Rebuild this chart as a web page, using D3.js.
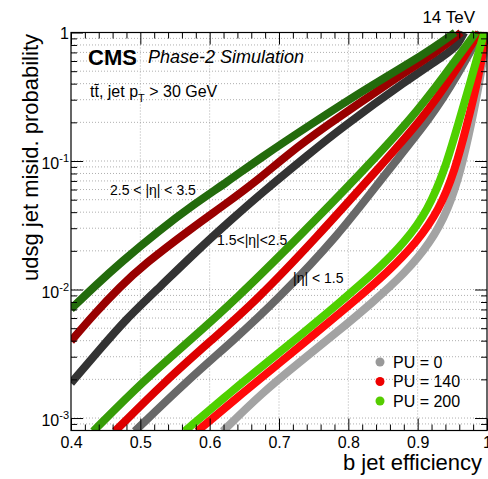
<!DOCTYPE html>
<html>
    <head>
        <script src="https://cdnjs.cloudflare.com/ajax/libs/d3/7.8.5/d3.min.js"></script>
        <title>b-tag ROC</title>
        <style>
            html, body {
                margin: 0;
                background: #fff;
            }
            svg {
                display: block;
                font-family: "Liberation Sans", Arial, Helvetica, sans-serif;
            }
        </style>
    </head>
    <body>
        <svg width="488" height="479"></svg>

        <script>
            // axis ticks
            var xTicks = [0.4, 0.5, 0.6, 0.7, 0.8, 0.9, 1];
            var xTickLabels = ["0.4", "0.5", "0.6", "0.7", "0.8", "0.9", "1"];
            var yMajor = [0.001, 0.01, 0.1, 1];
            var yExponents = ["-3", "-2", "-1", ""];

            var regionLabels = ["2.5 < |η| < 3.5", "1.5<|η|<2.5", "|η| < 1.5"];
            var puLabels = ["PU = 0", "PU = 140", "PU = 200"];

            // 2.5 < |eta| < 3.5
            var fwdEffPU0   = [0.400, 0.442, 0.478, 0.528, 0.586, 0.629, 0.673, 0.745, 0.788, 0.885, 0.942, 0.958, 0.967];
            var fwdMisPU0   = [0.00187, 0.00344, 0.00579, 0.01046, 0.02104, 0.0341, 0.0553, 0.1154, 0.1774, 0.427, 0.680, 0.799, 1.0];
            var fwdEffPU140 = [0.400, 0.4346, 0.4707, 0.504, 0.576, 0.625, 0.673, 0.7115, 0.7635, 0.860, 0.932, 0.9625];
            var fwdMisPU140 = [0.00397, 0.00656, 0.01046, 0.0155, 0.0306, 0.0471, 0.0738, 0.1113, 0.1806, 0.412, 0.731, 1.0];
            var fwdEffPU200 = [0.400, 0.4346, 0.4707, 0.528, 0.576, 0.625, 0.673, 0.740, 0.836, 0.908, 0.954];
            var fwdMisPU200 = [0.00705, 0.01065, 0.01608, 0.0290, 0.0455, 0.0686, 0.1055, 0.184, 0.397, 0.668, 1.0];

            // 1.5 < |eta| < 2.5
            var midEffPU0   = [0.492, 0.567, 0.635, 0.697, 0.785, 0.853, 0.919, 0.958, 0.991];
            var midMisPU0   = [0.00079, 0.00194, 0.00405, 0.00828, 0.0261, 0.0792, 0.216, 0.467, 1.0];
            var midEffPU140 = [0.4635, 0.536, 0.603, 0.668, 0.756, 0.836, 0.908, 0.951, 0.9885];
            var midMisPU140 = [0.00079, 0.00194, 0.00405, 0.00828, 0.0261, 0.0792, 0.216, 0.467, 1.0];
            var midEffPU200 = [0.432, 0.504, 0.572, 0.6365, 0.730, 0.817, 0.892, 0.939, 0.984];
            var midMisPU200 = [0.00079, 0.00194, 0.00405, 0.00828, 0.0261, 0.0792, 0.216, 0.467, 1.0];

            // |eta| < 1.5
            var cenEffPU0   = [0.619, 0.6755, 0.730, 0.784, 0.834, 0.882, 0.918, 0.944, 0.9625, 0.977, 0.990, 1.0];
            var cenMisPU0   = [0.00079, 0.00157, 0.00273, 0.00467, 0.00785, 0.01344, 0.0230, 0.0416, 0.0851, 0.1906, 0.427, 1.0];
            var cenEffPU140 = [0.582, 0.648, 0.706, 0.753, 0.807, 0.857, 0.899, 0.931, 0.954, 0.971, 0.987, 0.9995];
            var cenMisPU140 = [0.00079, 0.00157, 0.00283, 0.00459, 0.00799, 0.01368, 0.02342, 0.0416, 0.0851, 0.1906, 0.427, 1.0];
            var cenEffPU200 = [0.564, 0.629, 0.687, 0.735, 0.788, 0.8385, 0.882, 0.915, 0.939, 0.958, 0.977, 0.996];
            var cenMisPU200 = [0.00079, 0.00157, 0.00283, 0.00459, 0.00799, 0.01368, 0.02342, 0.0416, 0.0851, 0.1906, 0.427, 1.0];

            var curves = [
                {eff: fwdEffPU0,   mis: fwdMisPU0,   color: "#333333"},
                {eff: fwdEffPU140, mis: fwdMisPU140, color: "#990000"},
                {eff: fwdEffPU200, mis: fwdMisPU200, color: "#236b0c"},
                {eff: midEffPU0,   mis: midMisPU0,   color: "#686868"},
                {eff: midEffPU140, mis: midMisPU140, color: "#dd0000"},
                {eff: midEffPU200, mis: midMisPU200, color: "#379c08"},
                {eff: cenEffPU0,   mis: cenMisPU0,   color: "#a3a3a3"},
                {eff: cenEffPU140, mis: cenMisPU140, color: "#ff0a0a"},
                {eff: cenEffPU200, mis: cenMisPU200, color: "#4fd000"}
            ];
            var legendColors = ["#999999", "#ee0000", "#55cc00"];

            var padL = 71, padR = 487, padT = 32.5, padB = 430.5;

            var x = d3.scaleLinear().domain([0.4, 1]).range([padL, padR]);
            var y = d3.scaleLog().domain([0.0008, 1]).range([padB, padT]);

            var svg = d3.select("svg");

            // minor tick values
            var xMinor = d3.range(0.42, 1.0, 0.02).filter(function(v){
                return Math.abs(v * 10 - Math.round(v * 10)) > 0.01;
            });
            var yAll = [0.0009];
            yMajor.slice(0, 3).forEach(function(d){
                for (var m = 1; m <= 9; m++) yAll.push(m * d);
            });
            var yMinor = yAll.filter(function(v){ return yMajor.indexOf(v) < 0; });

            // grid
            var grid = svg.append("g")
                .attr("stroke", "#9a9a9a")
                .attr("stroke-width", 0.8)
                .attr("stroke-dasharray", "1,2");
            grid.selectAll(".gy")
                .data(yAll)
                .enter().append("line")
                .attr("x1", padL).attr("x2", padR)
                .attr("y1", function(d){ return y(d); })
                .attr("y2", function(d){ return y(d); });
            grid.selectAll(".gx")
                .data(xTicks.slice(1, 6))
                .enter().append("line")
                .attr("y1", padT).attr("y2", padB)
                .attr("x1", function(d){ return x(d); })
                .attr("x2", function(d){ return x(d); });

            // curves
            svg.append("clipPath").attr("id", "clip")
                .append("rect")
                .attr("x", padL).attr("y", padT - 5)
                .attr("width", padR - padL + 5).attr("height", padB - padT + 5);

            var line = d3.line()
                .x(function(d){ return x(d[0]); })
                .y(function(d){ return y(d[1]); })
                .curve(d3.curveBasis);

            svg.append("g")
                .attr("clip-path", "url(#clip)")
                .selectAll("path")
                .data(curves)
                .enter().append("path")
                .attr("d", function(c){ return line(d3.zip(c.eff, c.mis)); })
                .attr("fill", "none")
                .attr("stroke", function(c){ return c.color; })
                .attr("stroke-width", 8)
                .attr("stroke-linejoin", "round");

            // axes, ticks pointing inward
            function styleAxis(g) {
                g.select(".domain").remove();
                g.selectAll("line").attr("stroke", "#000");
            }

            svg.append("g").attr("transform", "translate(0," + padB + ")")
                .call(d3.axisBottom(x).tickValues(xTicks).tickSizeInner(-12).tickSizeOuter(0).tickPadding(6)
                    .tickFormat(function(d, i){ return xTickLabels[i]; }))
                .call(styleAxis)
                .selectAll("text").attr("font-size", 16).attr("fill", "#000");
            svg.selectAll("g text").attr("font-family", null);
            svg.append("g").attr("transform", "translate(0," + padB + ")")
                .call(d3.axisBottom(x).tickValues(xMinor).tickSizeInner(-6).tickSizeOuter(0).tickFormat(""))
                .call(styleAxis);
            svg.append("g").attr("transform", "translate(0," + padT + ")")
                .call(d3.axisTop(x).tickValues(xTicks).tickSizeInner(-12).tickSizeOuter(0).tickFormat(""))
                .call(styleAxis);
            svg.append("g").attr("transform", "translate(0," + padT + ")")
                .call(d3.axisTop(x).tickValues(xMinor).tickSizeInner(-6).tickSizeOuter(0).tickFormat(""))
                .call(styleAxis);

            svg.append("g").attr("transform", "translate(" + padL + ",0)")
                .call(d3.axisLeft(y).tickValues(yMajor).tickSizeInner(-12).tickSizeOuter(0).tickFormat(""))
                .call(styleAxis);
            svg.append("g").attr("transform", "translate(" + padL + ",0)")
                .call(d3.axisLeft(y).tickValues(yMinor).tickSizeInner(-6).tickSizeOuter(0).tickFormat(""))
                .call(styleAxis);
            svg.append("g").attr("transform", "translate(" + padR + ",0)")
                .call(d3.axisRight(y).tickValues(yMajor).tickSizeInner(-12).tickSizeOuter(0).tickFormat(""))
                .call(styleAxis);
            svg.append("g").attr("transform", "translate(" + padR + ",0)")
                .call(d3.axisRight(y).tickValues(yMinor).tickSizeInner(-6).tickSizeOuter(0).tickFormat(""))
                .call(styleAxis);

            // frame
            svg.append("rect")
                .attr("x", padL).attr("y", padT)
                .attr("width", padR - padL).attr("height", padB - padT)
                .attr("fill", "none").attr("stroke", "#000").attr("stroke-width", 1.2);

            // y tick labels with exponents
            var yLab = svg.append("g").selectAll("text")
                .data(yMajor)
                .enter().append("text")
                .attr("x", 69)
                .attr("y", function(d, i){ return y(d) + (yExponents[i] ? 8 : 6); })
                .attr("text-anchor", "end")
                .attr("font-size", 16);
            yLab.each(function(d, i){
                var t = d3.select(this);
                if (yExponents[i]) {
                    t.append("tspan").text("10");
                    t.append("tspan").attr("dy", -7).attr("font-size", 11).text(yExponents[i]);
                } else {
                    t.text("1");
                }
            });

            // titles
            svg.append("text")
                .attr("x", 482).attr("y", 470)
                .attr("text-anchor", "end").attr("font-size", 22)
                .text("b jet efficiency");
            svg.append("text")
                .attr("transform", "translate(38,34) rotate(-90)")
                .attr("text-anchor", "end").attr("font-size", 22)
                .text("udsg jet misid. probability");

            svg.append("text")
                .attr("x", 475).attr("y", 23)
                .attr("text-anchor", "end").attr("font-size", 17)
                .text("14 TeV");
            svg.append("text")
                .attr("x", 88).attr("y", 65)
                .attr("font-size", 22).attr("font-weight", "bold")
                .text("CMS");
            svg.append("text")
                .attr("x", 148).attr("y", 63)
                .attr("font-size", 18).attr("font-style", "italic")
                .text("Phase-2 Simulation");

            var proc = svg.append("text")
                .attr("x", 90).attr("y", 97)
                .attr("font-size", 16);
            proc.append("tspan").text("t");
            proc.append("tspan").text("t\u0304");
            proc.append("tspan").text(", jet p");
            proc.append("tspan").attr("dy", 5).attr("font-size", 11).text("T");
            proc.append("tspan").attr("dy", -5).text(" > 30 GeV");

            // region annotations
            var regionPos = [[110, 195], [217, 245], [293, 283]];
            svg.append("g").selectAll("text")
                .data(regionLabels)
                .enter().append("text")
                .attr("x", function(d, i){ return regionPos[i][0]; })
                .attr("y", function(d, i){ return regionPos[i][1]; })
                .attr("font-size", 14)
                .text(function(d){ return d; });

            // legend
            var legend = svg.append("g").selectAll("g")
                .data(puLabels)
                .enter().append("g")
                .attr("transform", function(d, i){ return "translate(380," + (362 + i * 19.5) + ")"; });
            legend.append("circle")
                .attr("r", 4.5)
                .attr("fill", function(d, i){ return legendColors[i]; });
            legend.append("text")
                .attr("x", 13).attr("y", 5.5)
                .attr("font-size", 16)
                .text(function(d){ return d; });
        </script>
    </body>
</html>
